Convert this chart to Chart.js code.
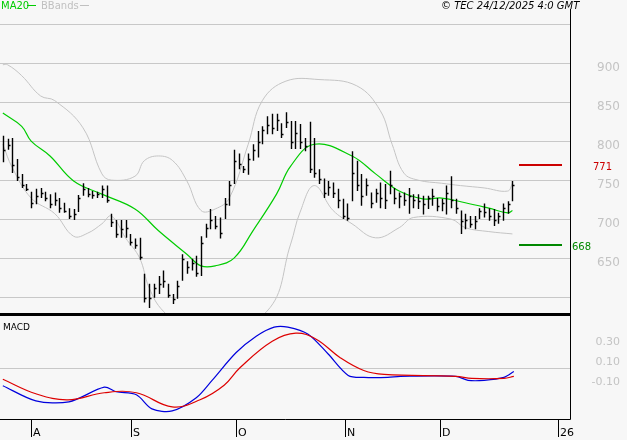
<!DOCTYPE html>
<html>
<head>
<meta charset="utf-8">
<script src="https://cdn.jsdelivr.net/npm/chart.js@4"></script>
<style>
  body { margin: 0; background: #f7f7f7; width: 627px; height: 440px; overflow: hidden; position: relative; font-family: "DejaVu Sans", sans-serif; }
  #topWrap { position: absolute; left: 0; top: 0; width: 627px; height: 316px; }
  #macdWrap { position: absolute; left: 0; top: 316px; width: 627px; height: 124px; }
  .hdr { position: absolute; top: 0px; font-size: 10px; line-height: 12px; }
  .dash { position: absolute; top: 5px; height: 1px; width: 9px; }
</style>
</head>
<body>
<div id="topWrap"><canvas id="top"></canvas></div>
<div id="macdWrap"><canvas id="macd"></canvas></div>
<div class="hdr" style="left:1px;color:#00cc00">MA20</div>
<div class="dash" style="left:27px;background:#00cc00"></div>
<div class="hdr" style="left:41px;color:#c0c0c0">BBands</div>
<div class="dash" style="left:80px;background:#c0c0c0"></div>
<div class="hdr" style="left:441px;color:#000;font-style:italic">© TEC 24/12/2025 4:0 GMT</div>
<div style="position:absolute;left:3px;top:322px;font-size:9px;color:#000">MACD</div>
<script>
// daily bars, index 0 = first visible session
var highs = [808,804,805,778,759,746,736,740,741,736,
  733,735,728,722,715,714,732,747,741,737,
  736,744,744,708,700,700,700,682,676,677,
  631,618,618,628,635,618,605,622,656,647,
  650,654,679,695,714,705,703,728,750,790,
  785,769,785,797,814,820,833,836,836,824,
  838,827,827,823,805,826,805,765,753,750,
  748,740,727,721,788,776,
  759,753,735,740,748,746,763,741,735,735,
  741,733,733,731,731,740,728,727,744,756,
  727,712,708,705,705,715,721,715,714,709,
  721,724,750];
var lows = [774,790,760,750,741,737,715,720,728,724,
  715,718,709,709,701,700,710,731,729,727,
  728,728,722,691,677,677,677,667,663,649,
  594,587,600,605,613,600,592,599,622,631,
  635,627,628,677,688,688,676,701,718,746,
  765,760,758,776,780,797,810,810,814,805,
  818,791,791,791,788,760,754,746,728,731,
  728,715,701,699,724,737,
  718,731,715,722,715,714,733,720,715,718,
  708,715,714,707,714,718,711,711,707,715,
  708,682,688,690,688,701,703,699,692,695,
  699,708,724];
var closes = [790,796,770,755,745,740,722,730,735,728,
  720,725,715,712,705,708,728,740,733,732,
  733,740,726,697,682,688,690,672,668,652,
  600,600,612,618,622,604,598,615,650,640,
  645,632,670,690,700,692,683,720,745,775,
  772,765,778,790,800,815,822,818,828,810,
  826,800,812,800,795,765,760,752,735,742,
  735,725,705,702,760,745,
  730,745,722,735,728,725,745,728,730,725,
  730,726,724,720,728,730,718,722,735,725,
  715,698,700,695,698,712,710,705,700,705,
  715,720,745];

// indicator lines read at sample sessions
var maIdx = [0,4,6,10,15,21,28,33,39,42,45,49,53,58,61,66,74,79,84,89,93,98,103,107,108];
var maVal = [837,820,801,782,750,733,714,686,656,641,641,651,686,733,769,797,782,759,737,727,728,722,715,709,712];
var upIdx = [0,1,4,8,11,17,21,23,28,30,33,36,39,42,45,48,52,55,60,67,75,80,82.5,85,88,93,97,102,107,108];
var upVal = [899,899,885,859,853,818,759,751,756,776,782,776,750,712,714,728,797,853,878,880,872,840,797,760,751,747,744,741,737,747];
var loIdx = [0,2,6,11,15,18,21,23,26,29,31,34,42,56,61,63,66,70,74,79,84,87,95,98,103,108];
var loVal = [797,767,728,708,679,683,695,705,677,651,613,583,545,583,669,710,744,712,695,677,690,703,701,690,685,682];

var macdIdx = [0,7,14,21.5,24,28.3,31.6,35.9,41,44.3,49.4,53.7,57.5,60.4,64.7,68.9,73.2,76.5,81.6,84.2,96,98.6,102,106.2,108.3];
var macdVal = [-0.17,-0.32,-0.33,-0.185,-0.23,-0.26,-0.40,-0.42,-0.29,-0.12,0.156,0.32,0.41,0.41,0.34,0.146,-0.068,-0.088,-0.088,-0.078,-0.078,-0.117,-0.117,-0.088,-0.03];
var sigIdx = [0,7,13.8,21.5,28.3,35.9,41.8,46.9,50.3,57.1,62.1,66.4,71.5,76.5,80.8,96,99.4,106.2,108.3];
var sigVal = [-0.107,-0.25,-0.31,-0.24,-0.24,-0.38,-0.31,-0.166,0.01,0.27,0.35,0.29,0.107,-0.02,-0.059,-0.078,-0.098,-0.098,-0.078];

var monthPos = [6.0, 27.1, 49.4, 72.5, 92.6, 117.6];
var monthLbl = ['A', 'S', 'O', 'N', 'D', '26'];
var priceTicks = [600,650,700,750,800,850,900,950];
var priceLabels = [650,700,750,800,850,900];
var macdTicks = [0.3, 0.1, -0.1];
var resistance = 771, support = 668;

var xMin = -0.6, xMax = 120.2;
function pts(ix, v) { return ix.map(function(x, k) { return {x: x, y: v[k]}; }); }
function fitRight(axis) { axis.width = 57; }

// right-hand value labels, drawn a few px below their grid line
function drawAxisLabels(chart, values, fmt, size) {
  var c = chart.ctx, ys = chart.scales.y;
  c.save();
  c.fillStyle = '#c4c4c4'; c.font = size + 'px "DejaVu Sans"';
  c.textAlign = 'right'; c.textBaseline = 'middle';
  values.forEach(function(v) { c.fillText(fmt(v), 620, ys.getPixelForValue(v) + 4); });
  c.restore();
}

var ohlcPlugin = {
  id: 'ohlc',
  afterDatasetsDraw: function(chart) {
    var c = chart.ctx, xs = chart.scales.x, ys = chart.scales.y, a = chart.chartArea;
    c.save();
    c.beginPath(); c.rect(a.left, a.top, a.right - a.left, a.bottom - a.top); c.clip();
    c.strokeStyle = '#000'; c.lineWidth = 1.4;
    for (var i = 0; i < highs.length; i++) {
      var x = Math.round(xs.getPixelForValue(i)) + 0.5;
      c.beginPath();
      c.moveTo(x, ys.getPixelForValue(highs[i]));
      c.lineTo(x, ys.getPixelForValue(lows[i]));
      var yc = Math.round(ys.getPixelForValue(closes[i])) + 0.5;
      c.moveTo(x, yc); c.lineTo(x + 2, yc);
      c.stroke();
    }
    c.restore();
    drawAxisLabels(chart, priceLabels, String, 12);
    // support / resistance markers
    c.save();
    c.lineWidth = 2;
    [[resistance, '#cc0000', 593], [support, '#008800', 572]].forEach(function(r) {
      var y = Math.round(ys.getPixelForValue(r[0]));
      c.strokeStyle = r[1];
      c.beginPath(); c.moveTo(519, y); c.lineTo(562, y); c.stroke();
      c.fillStyle = r[1]; c.font = '10px "DejaVu Sans"'; c.textBaseline = 'middle';
      c.fillText(String(r[0]), r[2], y + 2);
    });
    // frame
    c.strokeStyle = '#000'; c.lineWidth = 1;
    c.beginPath(); c.moveTo(a.right + 0.5, a.top); c.lineTo(a.right + 0.5, 316); c.stroke();
    c.lineWidth = 3;
    c.beginPath(); c.moveTo(0, 314.5); c.lineTo(a.right + 1, 314.5); c.stroke();
    c.restore();
  }
};

new Chart(document.getElementById('top'), {
  type: 'line',
  data: {
    datasets: [
      { data: pts(upIdx, upVal), borderColor: '#c4c4c4', borderWidth: 1, pointRadius: 0, tension: 0.4 },
      { data: pts(loIdx, loVal), borderColor: '#c4c4c4', borderWidth: 1, pointRadius: 0, tension: 0.4 },
      { data: pts(maIdx, maVal), borderColor: '#00cc00', borderWidth: 1.2, pointRadius: 0, tension: 0.4 }
    ]
  },
  options: {
    responsive: true, maintainAspectRatio: false, animation: false,
    layout: { padding: { top: 9, left: 0, right: 0, bottom: 1 } },
    plugins: { legend: { display: false }, tooltip: { enabled: false } },
    scales: {
      x: { type: 'linear', min: xMin, max: xMax, display: false },
      y: {
        position: 'right', min: 578, max: 970.5,
        afterBuildTicks: function(ax) { ax.ticks = priceTicks.map(function(v) { return {value: v}; }); },
        afterFit: fitRight,
        border: { display: false },
        grid: { color: '#c8c8c8', drawTicks: false },
        ticks: { display: false }
      }
    }
  },
  plugins: [ohlcPlugin]
});

var macdFrame = {
  id: 'frame',
  afterDraw: function(chart) {
    var c = chart.ctx, a = chart.chartArea, xs = chart.scales.x;
    drawAxisLabels(chart, macdTicks, function(v) { return v.toFixed(2); }, 11);
    c.save(); c.strokeStyle = '#000'; c.lineWidth = 1;
    c.beginPath();
    c.moveTo(a.right + 0.5, 0); c.lineTo(a.right + 0.5, a.bottom + 0.5); c.lineTo(0, a.bottom + 0.5);
    monthPos.forEach(function(p) {
      var x = Math.round(xs.getPixelForValue(p)) + 0.5;
      c.moveTo(x, a.bottom); c.lineTo(x, a.bottom + 18);
    });
    c.stroke();
    c.fillStyle = '#000'; c.font = '11px "DejaVu Sans"'; c.textBaseline = 'middle';
    monthPos.forEach(function(p, k) {
      c.fillText(monthLbl[k], Math.round(xs.getPixelForValue(p)) + 2, a.bottom + 14);
    });
    c.restore();
  }
};

new Chart(document.getElementById('macd'), {
  type: 'line',
  data: {
    datasets: [
      { data: pts(sigIdx, sigVal), borderColor: '#dd0000', borderWidth: 1.2, pointRadius: 0, tension: 0.4 },
      { data: pts(macdIdx, macdVal), borderColor: '#0000dd', borderWidth: 1.2, pointRadius: 0, tension: 0.3 }
    ]
  },
  options: {
    responsive: true, maintainAspectRatio: false, animation: false,
    layout: { padding: { top: 0, left: 0, right: 0, bottom: 21 } },
    plugins: { legend: { display: false }, tooltip: { enabled: false } },
    scales: {
      x: { type: 'linear', min: xMin, max: xMax, display: false },
      y: {
        position: 'right', min: -0.5, max: 0.52,
        afterBuildTicks: function(ax) { ax.ticks = [0].map(function(v) { return {value: v}; }); },
        afterFit: fitRight,
        border: { display: false },
        grid: { drawTicks: false, color: '#c8c8c8' },
        ticks: { display: false }
      }
    }
  },
  plugins: [macdFrame]
});
</script>
</body>
</html>
